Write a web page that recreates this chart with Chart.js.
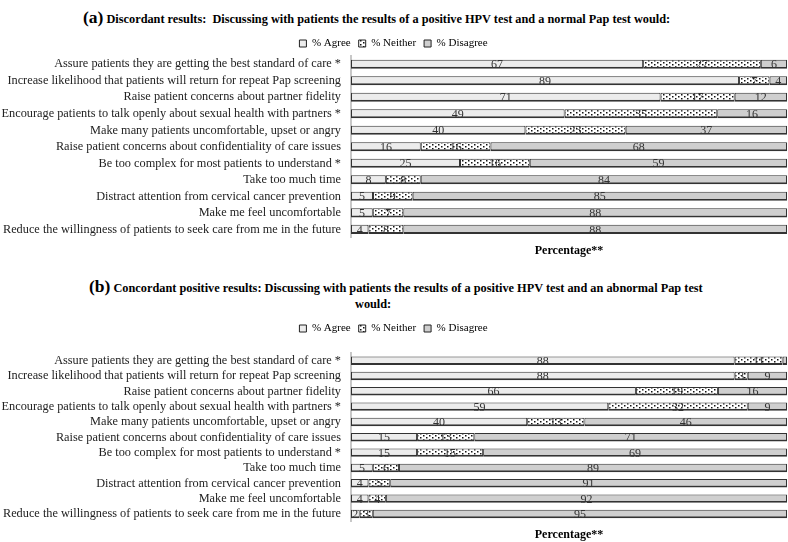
<!DOCTYPE html>
<html>
<head>
<meta charset="utf-8">
<script src="https://cdn.jsdelivr.net/npm/chart.js@4.4.1/dist/chart.umd.min.js"></script>
<style>
  body { margin: 0; background: #fff; width: 788px; height: 542px; position: relative; overflow: hidden; }
  .ttl { position: absolute; font-family: "Liberation Serif", serif; font-weight: bold; font-size: 12.3px; color: #000; white-space: nowrap; }
  .ttl b { font-size: 17.5px; }
  .box { position: absolute; left: 0; width: 788px; }
</style>
</head>
<body>
<div class="ttl" style="top:7px; left:83px;"><b>(a)</b> Discordant results:&nbsp; Discussing with patients the results of a positive HPV test and a normal Pap test would:</div>
<div class="box" style="top:24px; height:234px;"><canvas id="chartA"></canvas></div>
<div class="ttl" style="top:276px; left:89px;"><b>(b)</b> Concordant positive results: Discussing with patients the results of a positive HPV test and an abnormal Pap test</div>
<div class="ttl" style="top:297px; left:355px;">would:</div>
<div class="box" style="top:309px; height:233px;"><canvas id="chartB"></canvas></div>
<script>
const $ = id => document.getElementById(id);

// Shared categories (top to bottom)
const items = [
  "Assure patients they are getting the best standard of care *",
  "Increase likelihood that patients will return for repeat Pap screening",
  "Raise patient concerns about partner fidelity",
  "Encourage patients to talk openly about sexual health with partners *",
  "Make many patients uncomfortable, upset or angry",
  "Raise patient concerns about confidentiality of care issues",
  "Be too complex for most patients to understand *",
  "Take too much time",
  "Distract attention from cervical cancer prevention",
  "Make me feel uncomfortable",
  "Reduce the willingness of patients to seek care from me in the future"
];

// (a) Discordant results
const agreeA    = [67, 89, 71, 49, 40, 16, 25, 8, 5, 5, 4];
const neitherA  = [27, 7, 17, 35, 23, 16, 16, 8, 9, 7, 8];
const disagreeA = [6, 4, 12, 16, 37, 68, 59, 84, 85, 88, 88];

// (b) Concordant positive results
const agreeB    = [88, 88, 66, 59, 40, 15, 15, 5, 4, 4, 2];
const neitherB  = [11, 3, 19, 32, 13, 13, 15, 6, 5, 4, 3];
const disagreeB = [1, 9, 16, 9, 46, 71, 69, 89, 91, 92, 95];

const seriesNames = ["% Agree", "% Neither", "% Disagree"];

// dotted fill for the "Neither" segments
function dotPattern() {
  const c = document.createElement("canvas");
  c.width = 6; c.height = 4;
  const g = c.getContext("2d");
  g.fillStyle = "#fff";
  g.fillRect(0, 0, 6, 4);
  g.fillStyle = "#111";
  g.fillRect(0, 0, 1.5, 1.5);
  g.fillRect(3, 2, 1.5, 1.5);
  return g.createPattern(c, "repeat");
}
const dots = dotPattern();

// 100% stacked: bar lengths as share of the row total, labels keep the raw value
function share(vals, rows) {
  return vals.map((v, i) => v / rows.reduce((s, r) => s + r[i], 0) * 100);
}

// draws the raw value in the middle of each segment
const valueLabels = {
  id: "valueLabels",
  afterDatasetsDraw(chart) {
    const ctx = chart.ctx;
    ctx.save();
    ctx.font = "12px 'Liberation Serif'";
    ctx.fillStyle = "#333";
    ctx.textAlign = "center";
    ctx.textBaseline = "middle";
    chart.data.datasets.forEach((ds, di) => {
      chart.getDatasetMeta(di).data.forEach((bar, i) => {
        const v = ds.raw[i];
        if (v < 2) return;
        ctx.fillText(v, (bar.x + bar.base) / 2, bar.y + 1);
      });
    });
    ctx.restore();
  }
};

function makeChart(el, agree, neither, disagree, legendGap) {
  const rows = [agree, neither, disagree];
  const fills = ["#ececec", dots, "#cfcfcf"];
  return new Chart(el, {
    type: "bar",
    data: {
      labels: items,
      datasets: rows.map((r, k) => ({
        label: seriesNames[k],
        data: share(r, rows),
        raw: r,
        backgroundColor: fills[k],
        borderColor: "#333",
        borderWidth: { top: 1, bottom: 2, left: 1, right: 1 },
        borderSkipped: false,
        barPercentage: 0.55,
        categoryPercentage: 1
      }))
    },
    options: {
      indexAxis: "y",
      responsive: true,
      maintainAspectRatio: false,
      animation: false,
      layout: { padding: { top: 6, right: 1, bottom: 0, left: 0 } },
      plugins: {
        tooltip: { enabled: false },
        legend: {
          position: "top",
          labels: {
            font: { family: "Liberation Serif", size: 11 },
            color: "#555",
            boxWidth: 7,
            boxHeight: 7,
            padding: 8,
            generateLabels(chart) {
              return chart.data.datasets.map((ds, i) => ({
                text: ds.label,
                fillStyle: ds.backgroundColor,
                strokeStyle: "#222",
                lineWidth: 1,
                datasetIndex: i
              }));
            }
          }
        }
      },
      scales: {
        x: {
          stacked: true,
          min: 0,
          max: 100,
          ticks: { display: false },
          grid: { display: false },
          border: { display: false },
          title: {
            display: true,
            text: "Percentage**",
            color: "#000",
            font: { family: "Liberation Serif", size: 12, weight: "bold" },
            padding: { top: -2, bottom: 0 }
          }
        },
        y: {
          stacked: true,
          afterFit(scale) { scale.width = 351; },
          ticks: {
            autoSkip: false,
            color: "#222",
            padding: 10,
            font: { family: "Liberation Serif", size: 12.3 }
          },
          grid: { display: false, drawTicks: false },
          border: { display: true, color: "#c8c8c8", width: 2 }
        }
      }
    },
    plugins: [valueLabels, {
      // adjust room between legend and bars
      id: "legendGap",
      beforeInit(chart) {
        const fit = chart.legend.fit;
        chart.legend.fit = function () {
          fit.call(this);
          this.height += legendGap;
        };
      }
    }]
  });
}

makeChart($("chartA"), agreeA, neitherA, disagreeA, -3);
makeChart($("chartB"), agreeB, neitherB, disagreeB, 9);
</script>
</body>
</html>
